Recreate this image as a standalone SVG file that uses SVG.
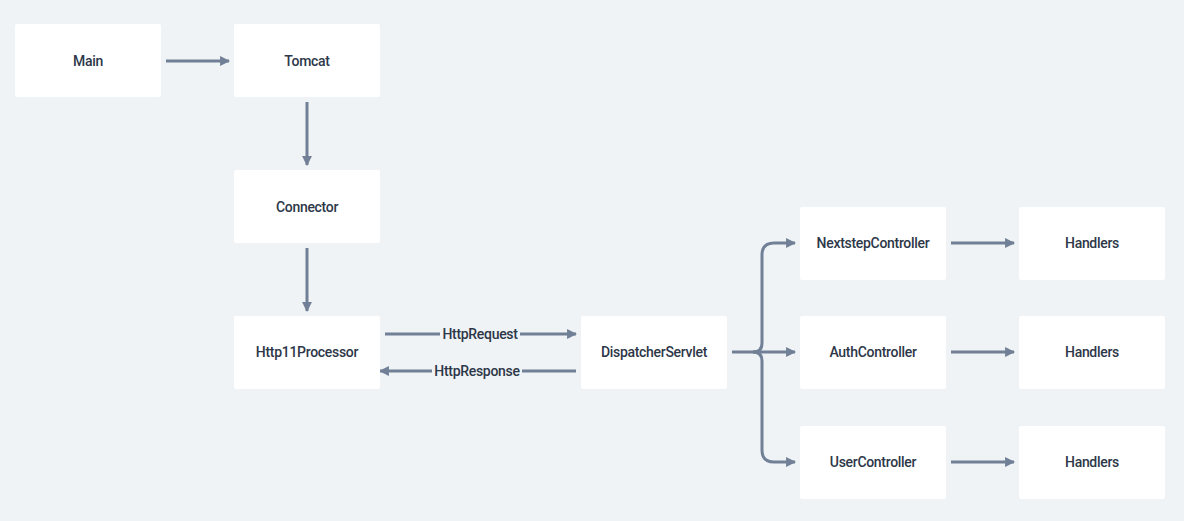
<svg xmlns="http://www.w3.org/2000/svg" width="1184" height="521" viewBox="0 0 1184 521">
<defs>
<marker id="ah" viewBox="0 0 10 10" refX="9" refY="5" markerWidth="3.3" markerHeight="3.3" orient="auto" markerUnits="strokeWidth">
<path d="M0,0 L10,5 L0,10 z" fill="#718096"/>
</marker>
<style>
.box{fill:#ffffff;}
.lbl{font-family:Roboto,"Liberation Sans",sans-serif;font-size:14px;font-weight:500;fill:#2d3748;text-anchor:middle;dominant-baseline:central;letter-spacing:-0.3px;}
.edge{stroke:#718096;stroke-width:3;fill:none;marker-end:url(#ah);}
.line{stroke:#718096;stroke-width:3;fill:none;}
.elbl{font-family:Roboto,"Liberation Sans",sans-serif;font-size:14px;font-weight:500;fill:#2d3748;text-anchor:middle;dominant-baseline:central;letter-spacing:-0.3px;}
.lblbg{fill:#eff3f6;}
</style>
</defs>
<rect width="1184" height="521" fill="#eff3f6"/>
<g id="connectors">
<path class="edge" d="M166,61 H229"/>
<path class="edge" d="M307,102 V165"/>
<path class="edge" d="M307,248 V311"/>
<path class="edge" d="M385,334 H576"/>
<path class="edge" d="M576,371 H380"/>
<rect class="lblbg" x="440" y="325" width="80" height="18"/>
<text class="elbl" x="480" y="334">HttpRequest</text>
<rect class="lblbg" x="432" y="362" width="90" height="18"/>
<text class="elbl" x="477" y="371">HttpResponse</text>
<path class="line" d="M732,352 H753 Q762,352 762,343"/>
<path class="edge" d="M762,343 V255 Q762,243 774,243 H795"/>
<path class="edge" d="M753,352 H795"/>
<path class="edge" d="M753,352 Q762,352 762,361 V450 Q762,462 774,462 H795"/>
<path class="edge" d="M951,243 H1014"/>
<path class="edge" d="M951,352 H1014"/>
<path class="edge" d="M951,462 H1014"/>
</g>
<g id="main"><rect class="box" x="15" y="24" width="146" height="73" rx="2"/><text class="lbl" x="88" y="61">Main</text></g>
<g id="tomcat"><rect class="box" x="234" y="24" width="146" height="73" rx="2"/><text class="lbl" x="307" y="61">Tomcat</text></g>
<g id="connector"><rect class="box" x="234" y="170" width="146" height="73" rx="2"/><text class="lbl" x="307" y="207">Connector</text></g>
<g id="http11processor"><rect class="box" x="234" y="316" width="146" height="73" rx="2"/><text class="lbl" x="307" y="352">Http11Processor</text></g>
<g id="dispatcherservlet"><rect class="box" x="581" y="316" width="146" height="73" rx="2"/><text class="lbl" x="654" y="352">DispatcherServlet</text></g>
<g id="nextstepcontroller"><rect class="box" x="800" y="207" width="146" height="73" rx="2"/><text class="lbl" x="873" y="243">NextstepController</text></g>
<g id="authcontroller"><rect class="box" x="800" y="316" width="146" height="73" rx="2"/><text class="lbl" x="873" y="352">AuthController</text></g>
<g id="usercontroller"><rect class="box" x="800" y="426" width="146" height="73" rx="2"/><text class="lbl" x="873" y="462">UserController</text></g>
<g id="handlers1"><rect class="box" x="1019" y="207" width="146" height="73" rx="2"/><text class="lbl" x="1092" y="243">Handlers</text></g>
<g id="handlers2"><rect class="box" x="1019" y="316" width="146" height="73" rx="2"/><text class="lbl" x="1092" y="352">Handlers</text></g>
<g id="handlers3"><rect class="box" x="1019" y="426" width="146" height="73" rx="2"/><text class="lbl" x="1092" y="462">Handlers</text></g>
</svg>
